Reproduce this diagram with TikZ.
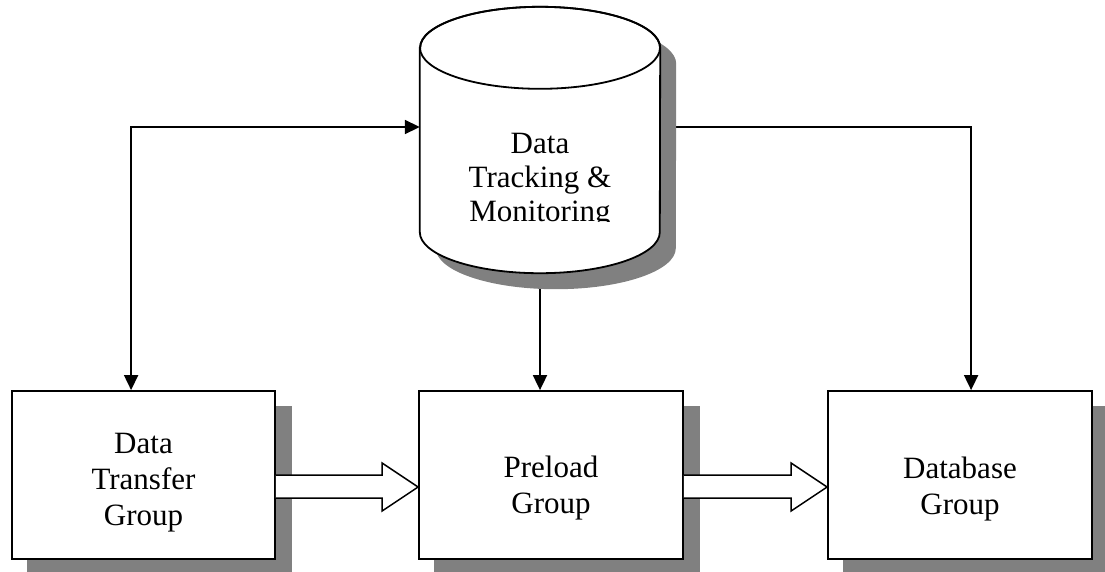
\documentclass[tikz,border=0pt]{standalone}
\usepackage{fontspec}
\setmainfont{Liberation Serif}
\usetikzlibrary{arrows.meta,calc}
\definecolor{shadowgray}{HTML}{808080}
\pgfdeclarelayer{back}
\pgfsetlayers{back,main}
\begin{document}
\begin{tikzpicture}[x=1pt,y=1pt,
  lw/.style={line width=1.8pt},
  group/.style={draw, lw, fill=white, minimum width=264pt, minimum height=168pt, inner sep=0pt},
  caption/.style={align=center, font=\fontsize{31}{36}\selectfont, inner sep=0pt},
  shade/.style={fill=shadowgray, draw=none},
  link/.style={line width=1.8pt, -{Triangle[length=15pt,width=14pt]}},
  fat/.style={draw, line width=1.5pt, fill=white, line join=miter}]
\useasboundingbox (0,0) rectangle (1105,-571);
\clip (0,0) rectangle (1105,-571);

% group boxes and the tracking store
\node[group, minimum width=263pt] (b1) at (143.5,-475) {};
\node[group] (b2) at (551,-475) {};
\node[group] (b3) at (960,-475) {};
\node[minimum width=240pt, minimum height=266pt, inner sep=0pt] (trk) at (540,-140) {};

% cylinder body with its top face
\path[draw, lw, fill=white]
  ($(trk.north west)+(0,-41)$) -- ($(trk.south west)+(0,41)$)
  arc[start angle=180, end angle=360, x radius=120pt, y radius=41pt]
  -- ($(trk.north east)+(0,-41)$)
  arc[start angle=0, end angle=180, x radius=120pt, y radius=41pt] -- cycle;
\draw[lw] ($(trk.north)+(0,-41)$) ellipse[x radius=120pt, y radius=41pt];

\begin{scope}
  \clip (420,-100) rectangle (660,-221);
  \node[caption, font=\fontsize{31}{34}\selectfont] (trktext) at ($(trk.center)+(0,-41)$)
    {Data\\Tracking \&\\Monitoring};
\end{scope}

\begin{pgfonlayer}{back}
  % connectors
  \draw[link, {Triangle[length=15pt,width=14pt]}-{Triangle[length=15pt,width=14pt]}]
    ($(trk.west)+(0,13)$) -| ($(b1.north west)+(120,0)$);
  \draw[link] (trk.south) -- (trk.south |- b2.north);
  \draw[link] ($(trk.east)+(0,13)$) -| ($(b3.north west)+(144,0)$);
  % drop shadows
  \fill[shade] ($(trk.north west)+(16,-57)$) -- ($(trk.south west)+(16,25)$)
    arc[start angle=180, end angle=360, x radius=120pt, y radius=41pt]
    -- ($(trk.north east)+(16,-57)$)
    arc[start angle=0, end angle=180, x radius=120pt, y radius=41pt] -- cycle;
  \foreach \b in {b1,b2,b3}
    \fill[shade] ($(\b.south west)+(16,-16)$) rectangle ($(\b.north east)+(16,-16)$);
\end{pgfonlayer}

% block arrows between groups
\path[fat] (b1.east) -- ($(b2.west)+(-36,0)$) -- ($(b2.west)+(-36,12)$)
  -- ($(b2.west)+(0,-12)$) -- ($(b2.west)+(-36,-36)$) -- ($(b2.west)+(-36,-23)$)
  -- ($(b1.east)+(0,-23)$);
\path[fat] (b2.east) -- ($(b3.west)+(-36,0)$) -- ($(b3.west)+(-36,12)$)
  -- ($(b3.west)+(0,-12)$) -- ($(b3.west)+(-36,-36)$) -- ($(b3.west)+(-36,-23)$)
  -- ($(b2.east)+(0,-23)$);

% labels
\node[caption] (t1) at ($(b1.center)+(0,-8)$) {Data\\Transfer\\Group};
\node[caption] (t2) at ($(b2.center)+(0,-13)$) {Preload\\Group};
\node[caption] (t3) at ($(b3.center)+(0,-14)$) {Database\\Group};
\end{tikzpicture}
\end{document}
